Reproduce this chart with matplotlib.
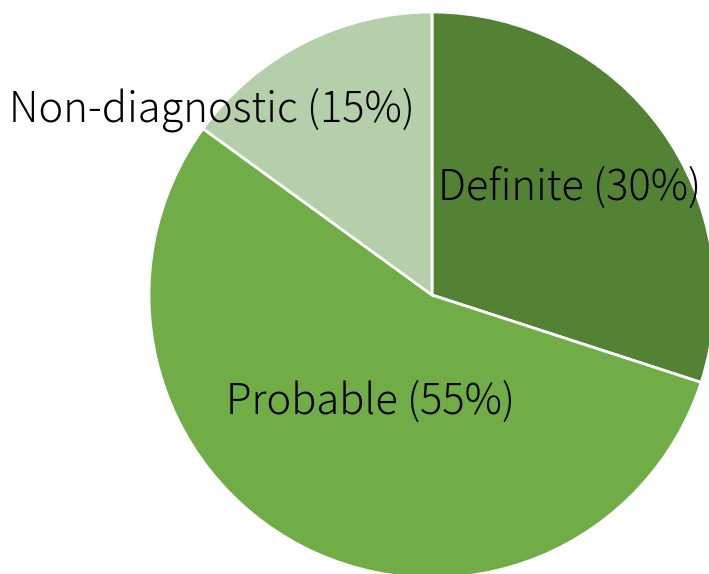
import matplotlib
matplotlib.use('Agg')
import matplotlib.pyplot as plt

categories = ['Definite', 'Probable', 'Non-diagnostic']
shares = [30, 55, 15]
colors = ['#548235', '#70AD47', '#B4CFA9']

# label anchor points in pixel coordinates (x, y from top)
label_pos = [(570, 188), (370, 402), (212, 110)]

plt.rcParams['font.family'] = ['Noto Sans CJK JP', 'DejaVu Sans']

W, H = 709, 574
fig = plt.figure(figsize=(W / 100, H / 100), dpi=100)
ax = fig.add_axes([0, 0, 1, 1])

ax.pie(shares, colors=colors, startangle=90, counterclock=False,
       center=(432, H - 295), radius=283, frame=True,
       wedgeprops=dict(edgecolor='white', linewidth=2))
ax.set_xlim(0, W)
ax.set_ylim(0, H)
ax.set_aspect('equal')
ax.axis('off')

for cat, val, (x, y) in zip(categories, shares, label_pos):
    ax.text(x, H - y, '%s (%d%%)' % (cat, val), ha='center', va='center',
            fontsize=30, fontweight='light', color='black')

plt.savefig('out.png', dpi=100)
